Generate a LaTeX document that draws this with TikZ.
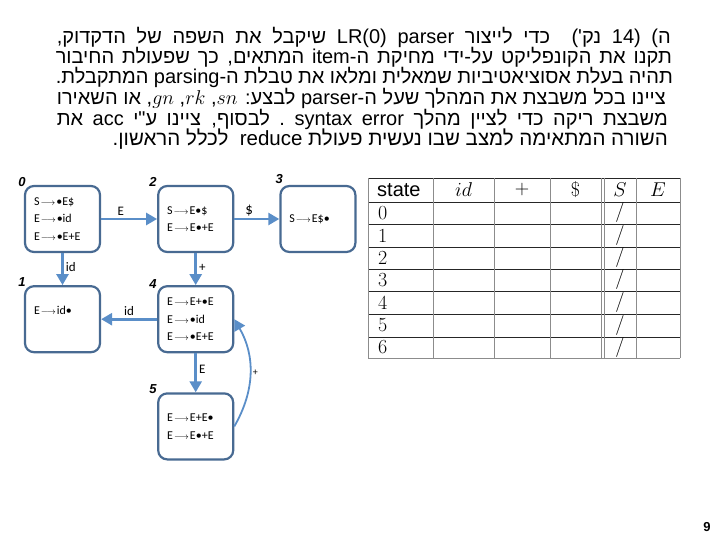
\RequirePackage{fix-cm}
\documentclass[tikz,border=0pt]{standalone}
\usepackage{fontspec}
\newfontfamily\hebfont[Script=Hebrew]{Liberation Sans}
\newfontfamily\arialfont{Liberation Sans}
\newfontfamily\calfont{Carlito}
\TeXXeTstate=1
\usetikzlibrary{arrows.meta, positioning}

\definecolor{boxc}{RGB}{72,106,146}
\definecolor{arrc}{RGB}{90,142,200}

\tikzstyle{lrstate}=[rectangle, rounded corners=9pt, draw=boxc, line width=2.2pt,
                     fill=white, minimum height=66pt, text width=57pt, inner xsep=9pt,
                     inner ysep=0pt, align=left, font=\calfont\fontsize{12}{17.5}\selectfont]
\tikzstyle{num}=[font=\arialfont\bfseries\itshape\fontsize{13}{13}\selectfont, inner sep=0pt]
\tikzstyle{trans}=[-{Triangle[length=11pt,width=12pt]}, line width=2.6pt, draw=arrc]
\tikzstyle{lbl}=[font=\calfont\fontsize{13}{13}\selectfont, inner sep=2pt]
\tikzstyle{hebline}=[anchor=base east, inner sep=0pt, font=\hebfont\fontsize{20}{20}\selectfont]
\tikzstyle{hrule}=[draw=black!85, line width=0.9pt]
\tikzstyle{vrule}=[draw=black!45, line width=0.9pt]
\tikzstyle{cell}=[inner sep=0pt, font=\fontsize{20}{20}\selectfont]

\newcommand{\ra}{\kern1pt{\fontsize{9}{9}\selectfont$\longrightarrow$}\kern1pt}

\begin{document}
\begin{tikzpicture}[x=1pt, y=-1pt]
  \useasboundingbox (0,0) rectangle (720,540);

  % Question text
  \node[hebline] (l1) at (671,44) {\hbox to 614pt{\beginR ה) (14 נק')\ \ כדי לייצור\ \beginL LR(0) parser\endL\ שיקבל את השפה של הדקדוק,\endR}};
  \node[hebline] (l2) at (672,64) {\hbox to 616pt{\beginR תקנו את הקונפליקט על-ידי מחיקת ה-item המתאים, כך שפעולת החיבור\endR}};
  \node[hebline] (l3) at (673,84) {\hbox to 617pt{\beginR תהיה בעלת אסוציאטיביות שמאלית ומלאו את טבלת ה-parsing המתקבלת.\endR}};
  \node[hebline] (l4) at (666,105) {\hbox to 609pt{\beginR ציינו בכל משבצת את המהלך שעל ה-parser\ לבצע: \beginL$sn$\endL, \beginL$rk$\endL, \beginL$gn$\endL, או השאירו\endR}};
  \node[hebline] (l5) at (668,126) {\hbox to 611pt{\beginR משבצת ריקה כדי לציין מהלך \beginL syntax error\endL\ .\ לבסוף, ציינו ע"י \beginL acc\endL\ את\endR}};
  \node[hebline, font=\hebfont\fontsize{20.5}{20}\selectfont] (l6) at (668,146) {\beginR השורה המתאימה למצב שבו נעשית פעולת \beginL reduce\endL\ \ לכלל הראשון.\endR};

  % States
  \node[lrstate] (s0) at (62.5,219) {S\ra•E\$\\E\ra•id\\E\ra•E+E};
  \node[lrstate, right=56pt of s0] (s2) {S\ra E•\$\\E\ra E•+E};
  \node[lrstate, right=45pt of s2] (s3) {S\ra E\$•};
  \node[lrstate, below=32pt of s0] (s1) {E\ra id•\\\mbox{}};
  \node[lrstate, below=32pt of s2] (s4) {E\ra E+•E\\E\ra•id\\E\ra•E+E};
  \node[lrstate, below=39pt of s4] (s5) {E\ra E+E•\\E\ra E•+E};

  % State numbers
  \node[num, xshift=-2pt, yshift=3pt] (n0) at (s0.north west) {0};
  \node[num, xshift=-4pt, yshift=3pt] (n2) at (s2.north west) {2};
  \node[num, xshift=0pt, yshift=6pt] (n3) at (s3.north west) {3};
  \node[num, xshift=-2pt, yshift=3pt] (n1) at (s1.north west) {1};
  \node[num, xshift=-4pt, yshift=1pt] (n4) at (s4.north west) {4};
  \node[num, xshift=-4pt, yshift=3pt] (n5) at (s5.north west) {5};

  % Transitions
  \draw[trans] (s0) -- node[lbl, above, pos=.35] (e02) {E} (s2);
  \draw[trans] (s2) -- node[lbl, above, pos=.33, font=\calfont\fontsize{15}{15}\selectfont] (e23) {\$} (s3);
  \draw[trans] (s0) -- node[lbl, right, pos=.45] (e01) {id} (s1);
  \draw[trans] (s2) -- node[lbl, right, pos=.45] (e24) {+} (s4);
  \draw[trans] (s4) -- node[lbl, above, pos=.5] (e41) {id} (s1);
  \draw[trans] (s4) -- node[lbl, right, pos=.4] (e45) {E} (s5);
  \draw[trans, line width=1.8pt] (s5.east) to[out=60, in=-60]
        node[lbl, right, font=\calfont\fontsize{10}{10}\selectfont] (e54) {+} (s4.east);

  % Parsing table
  \foreach \y in {178,202,224,247,269,291,314,337}
    \draw[hrule] (368,\y) -- (680,\y);
  \draw[vrule] (368,358) -- (680,358);
  \foreach \x in {368,433,494,550,601,604,636,680}
    \draw[vrule] (\x,178) -- (\x,358);
  \node[cell, anchor=west, font=\arialfont\fontsize{20}{20}\selectfont] (hst) at (377,190) {state};
  \node[cell] (hid) at (463.5,190) {$id$};
  \node[cell] (hpl) at (522,190) {$+$};
  \node[cell] (hdo) at (575.5,190) {\$};
  \node[cell] (hs) at (620,190) {$S$};
  \node[cell] (he) at (658,190) {$E$};
  \foreach \n/\y in {0/213,1/235.5,2/258,3/280,4/302.5,5/325.5,6/347.5} {
    \node[cell, anchor=west] (r\n) at (378,\y) {\n};
    \node[cell] (g\n) at (620,\y) {$/$};
  }

  % Page number
  \node[font=\arialfont\bfseries\fontsize{13}{13}\selectfont] (pnum) at (707,527) {9};
\end{tikzpicture}
\end{document}
